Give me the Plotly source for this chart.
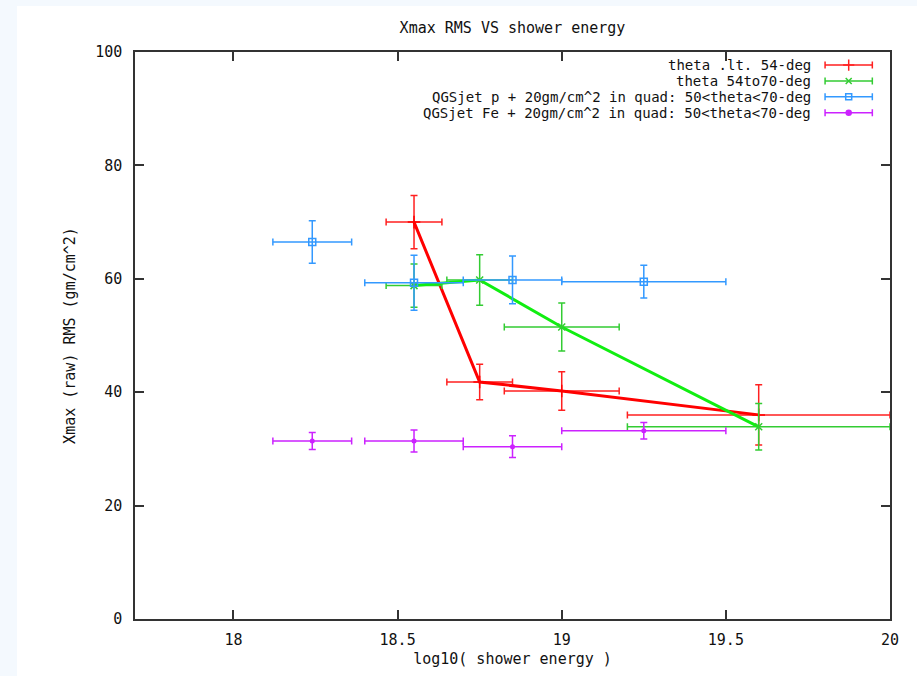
import plotly.graph_objects as go

# ---- data ----
energy_lt54 = [18.55, 18.75, 19.0, 19.6]
rms_lt54 = [70.0, 41.8, 40.2, 36.0]
rms_err_lt54 = [4.7, 3.15, 3.4, 5.3]
energy_err_lt54 = [0.085, 0.1, 0.175, 0.4]

energy_54to70 = [18.55, 18.75, 19.0, 19.6]
rms_54to70 = [58.8, 59.8, 51.5, 33.9]
rms_err_54to70 = [3.8, 4.45, 4.25, 4.1]
energy_err_54to70 = [0.085, 0.1, 0.175, 0.4]

energy_qgs = [18.24, 18.55, 18.85, 19.25]
energy_err_qgs = [0.12, 0.15, 0.15, 0.25]
rms_p = [66.5, 59.3, 59.8, 59.5]
rms_err_p = [3.75, 4.85, 4.2, 2.9]
rms_fe = [31.4, 31.4, 30.4, 33.2]
rms_err_fe = [1.5, 1.95, 1.9, 1.45]

series_names = [
    "theta .lt. 54-deg",
    "theta 54to70-deg",
    "QGSjet p + 20gm/cm^2 in quad: 50<theta<70-deg",
    "QGSjet Fe + 20gm/cm^2 in quad: 50<theta<70-deg",
]
x_ticks = [18, 18.5, 19, 19.5, 20]
x_tick_labels = ["18", "18.5", "19", "19.5", "20"]
y_ticks = [0, 20, 40, 60, 80, 100]

FONT = "DejaVu Sans Mono"
RED, RED_E = "#ff0000", "#ff2020"
GREEN_L, GREEN_E = "#11ee11", "#33cc33"
BLUE = "#3399ff"
MAG = "#cc22ff"

fig = go.Figure()

def err(arr, color, w=3.5):
    return dict(type="data", array=arr, visible=True, color=color, thickness=1.5, width=w)

fig.add_trace(go.Scatter(
    x=energy_lt54, y=rms_lt54, mode="lines+markers",
    line=dict(color=RED, width=3),
    marker=dict(symbol="cross-thin-open", size=9, color=RED, line=dict(color=RED, width=1.5)),
    error_x=err(energy_err_lt54, RED_E), error_y=err(rms_err_lt54, RED_E),
    showlegend=False))
fig.add_trace(go.Scatter(
    x=energy_54to70, y=rms_54to70, mode="lines+markers",
    line=dict(color=GREEN_L, width=3),
    marker=dict(symbol="x-thin-open", size=7, color=GREEN_E, line=dict(color=GREEN_E, width=1.5)),
    error_x=err(energy_err_54to70, GREEN_E), error_y=err(rms_err_54to70, GREEN_E),
    showlegend=False))
fig.add_trace(go.Scatter(
    x=energy_qgs, y=rms_p, mode="markers",
    marker=dict(symbol="square-open", size=7, color=BLUE, line=dict(color=BLUE, width=1.5)),
    error_x=err(energy_err_qgs, BLUE), error_y=err(rms_err_p, BLUE),
    showlegend=False))
fig.add_trace(go.Scatter(
    x=energy_qgs, y=rms_fe, mode="markers",
    marker=dict(symbol="circle", size=5, color=MAG),
    error_x=err(energy_err_qgs, MAG), error_y=err(rms_err_fe, MAG),
    showlegend=False))

# ---- gnuplot-style key (text left, sample right) on an overlay 0..1 axis ----
key_rows = [0.977, 0.949, 0.921, 0.893]
key_text_x = 0.898
key_sample_x = 0.9453
key_sample_half = 0.0313
key_styles = [
    (RED_E, "cross-thin-open", 8),
    (GREEN_E, "x-thin-open", 6),
    (BLUE, "square-open", 6),
    (MAG, "circle", 5),
]
annotations = []
for name, yk, (col, sym, sz) in zip(series_names, key_rows, key_styles):
    fig.add_trace(go.Scatter(
        x=[key_sample_x], y=[yk], xaxis="x2", yaxis="y2", mode="markers",
        marker=dict(symbol=sym, size=sz, color=col, line=dict(color=col, width=1.5)),
        error_x=dict(type="constant", value=key_sample_half, visible=True, color=col,
                     thickness=1.5, width=3.5),
        showlegend=False, hoverinfo="skip"))
    annotations.append(dict(
        x=key_text_x, y=yk, xref="paper", yref="paper", text=name, showarrow=False,
        xanchor="right", yanchor="middle", font=dict(family=FONT, size=14, color="#111")))

axis_common = dict(
    showline=True, linecolor="#333", linewidth=1.5, mirror="ticks",
    ticks="inside", ticklen=9, tickwidth=1.5, tickcolor="#333",
    showgrid=False, zeroline=False, automargin=False,
    tickfont=dict(family=FONT, size=15, color="#111"),
)

fig.update_layout(
    width=917, height=676,
    margin=dict(l=135, r=27, t=52, b=57, autoexpand=False),
    paper_bgcolor="#f4f9fe", plot_bgcolor="white",
    title=dict(text="Xmax RMS VS shower energy", x=0.5, xref="paper", xanchor="center",
               y=1 - 28 / 676, yanchor="middle", font=dict(family=FONT, size=15, color="#111")),
    xaxis=dict(range=[17.7, 20], tickvals=x_ticks, ticktext=x_tick_labels,
               title=dict(text="log10( shower energy )", font=dict(family=FONT, size=15, color="#111"),
                          standoff=6),
               ticklabelstandoff=6, **axis_common),
    yaxis=dict(range=[0, 100], tickvals=y_ticks,
               title=dict(text="Xmax (raw) RMS (gm/cm^2)", font=dict(family=FONT, size=15, color="#111"),
                          standoff=16),
               ticklabelstandoff=8, **axis_common),
    xaxis2=dict(overlaying="x", range=[0, 1], visible=False, fixedrange=True),
    yaxis2=dict(overlaying="y", range=[0, 1], visible=False, fixedrange=True),
    annotations=annotations,
    shapes=[dict(type="rect", xref="paper", yref="paper", x0=-0.1563, x1=1.2, y0=-0.3, y1=1.0811,
                 fillcolor="white", line=dict(width=0), layer="below")],
)

fig.write_html("out.html")
